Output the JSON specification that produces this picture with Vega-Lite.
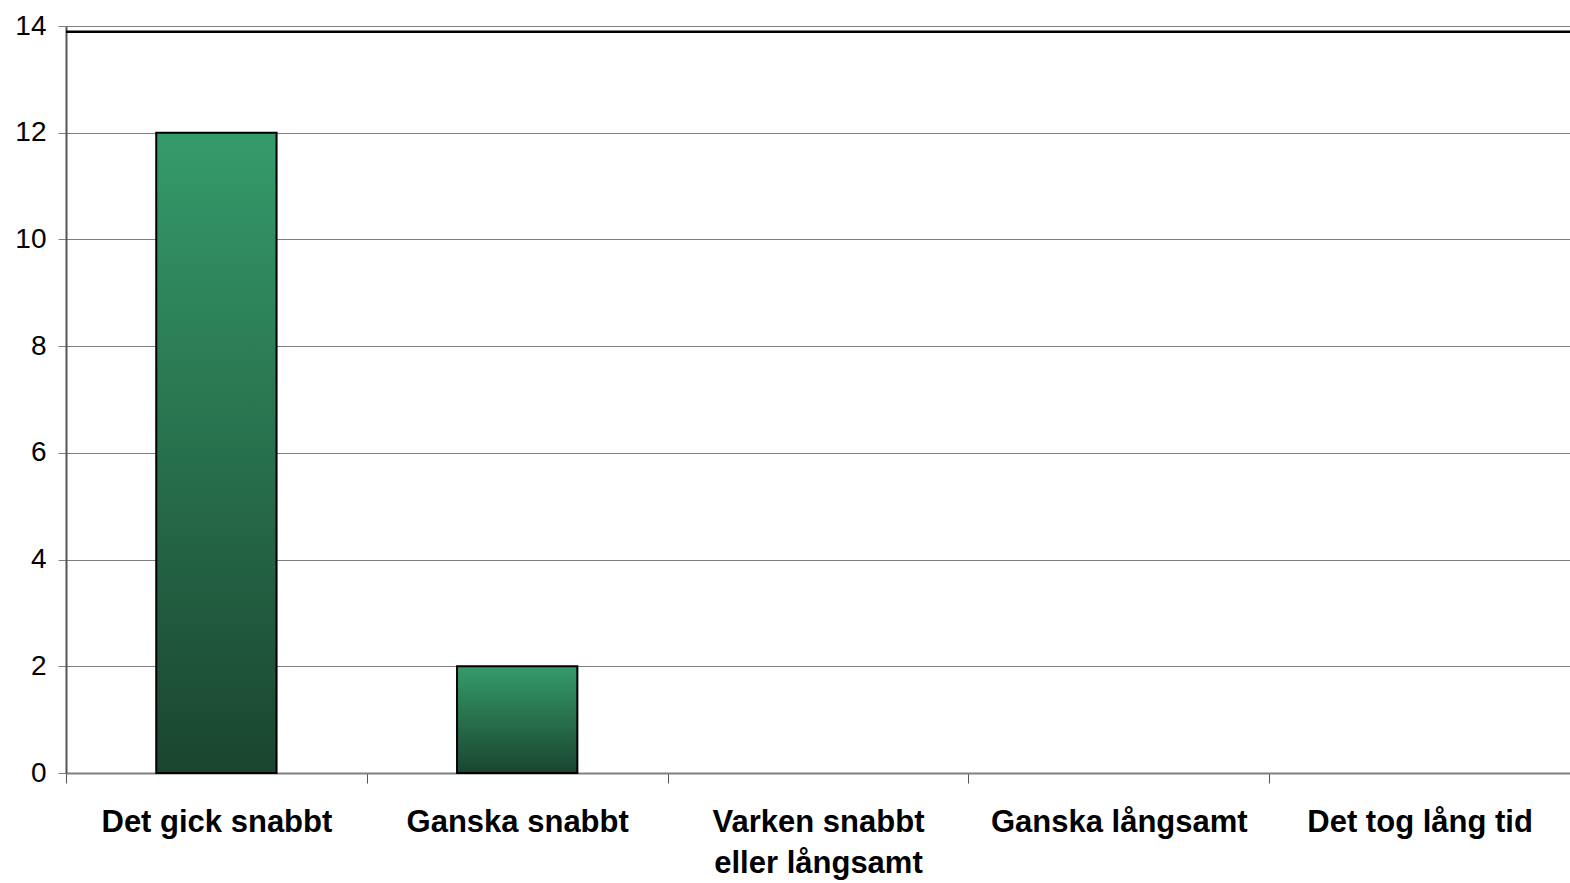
{
  "$schema": "https://vega.github.io/schema/vega-lite/v6.json",
  "width": 1504,
  "height": 747,
  "autosize": {"type": "none"},
  "padding": {"left": 66, "top": 26, "right": 0, "bottom": 110},
  "background": "white",
  "config": {"view": {"stroke": null}, "font": "Liberation Sans"},
  "layer": [
    {
      "data": {"values": [
        {"svar": "Det gick snabbt", "antal": 12},
        {"svar": "Ganska snabbt", "antal": 2},
        {"svar": "Varken snabbt eller långsamt", "antal": 0},
        {"svar": "Ganska långsamt", "antal": 0},
        {"svar": "Det tog lång tid", "antal": 0}
      ]},
      "mark": {
        "type": "bar",
        "width": {"band": 0.4},
        "stroke": "black",
        "strokeWidth": 2,
        "color": {
          "gradient": "linear",
          "x1": 0, "y1": 0, "x2": 0, "y2": 1,
          "stops": [
            {"offset": 0, "color": "#359b6a"},
            {"offset": 1, "color": "#1a4530"}
          ]
        }
      },
      "encoding": {
        "strokeOpacity": {"condition": {"test": "datum.antal == 0", "value": 0}, "value": 1},
        "x": {
          "field": "svar",
          "type": "nominal",
          "sort": null,
          "scale": {"paddingInner": 0, "paddingOuter": 0},
          "axis": {
            "title": null,
            "labelAngle": 0,
            "labelFont": "Liberation Sans",
            "labelFontSize": 31,
            "labelFontWeight": "bold",
            "labelColor": "black",
            "labelPadding": 24,
            "labelLineHeight": 41,
            "labelExpr": "datum.label == 'Varken snabbt eller långsamt' ? ['Varken snabbt', 'eller långsamt'] : datum.label",
            "tickBand": "extent",
            "tickSize": 10,
            "tickColor": "#555555",
            "domainColor": "#808080",
            "domainWidth": 2,
            "labelLimit": 400
          }
        },
        "y": {
          "field": "antal",
          "type": "quantitative",
          "scale": {"domain": [0, 14], "nice": false},
          "axis": {
            "title": null,
            "values": [0, 2, 4, 6, 8, 10, 12, 14],
            "labelFont": "Liberation Sans",
            "labelFontSize": 28,
            "labelColor": "black",
            "labelPadding": 12,
            "tickSize": 8,
            "tickColor": "#808080",
            "domainColor": "#555555",
            "domainWidth": 2,
            "grid": true,
            "gridColor": "#808080",
            "gridWidth": 1
          }
        }
      }
    },
    {
      "data": {"values": [{"niva": 13.89}]},
      "mark": {"type": "rule", "color": "black", "strokeWidth": 2.5},
      "encoding": {
        "y": {"field": "niva", "type": "quantitative"}
      }
    }
  ]
}
